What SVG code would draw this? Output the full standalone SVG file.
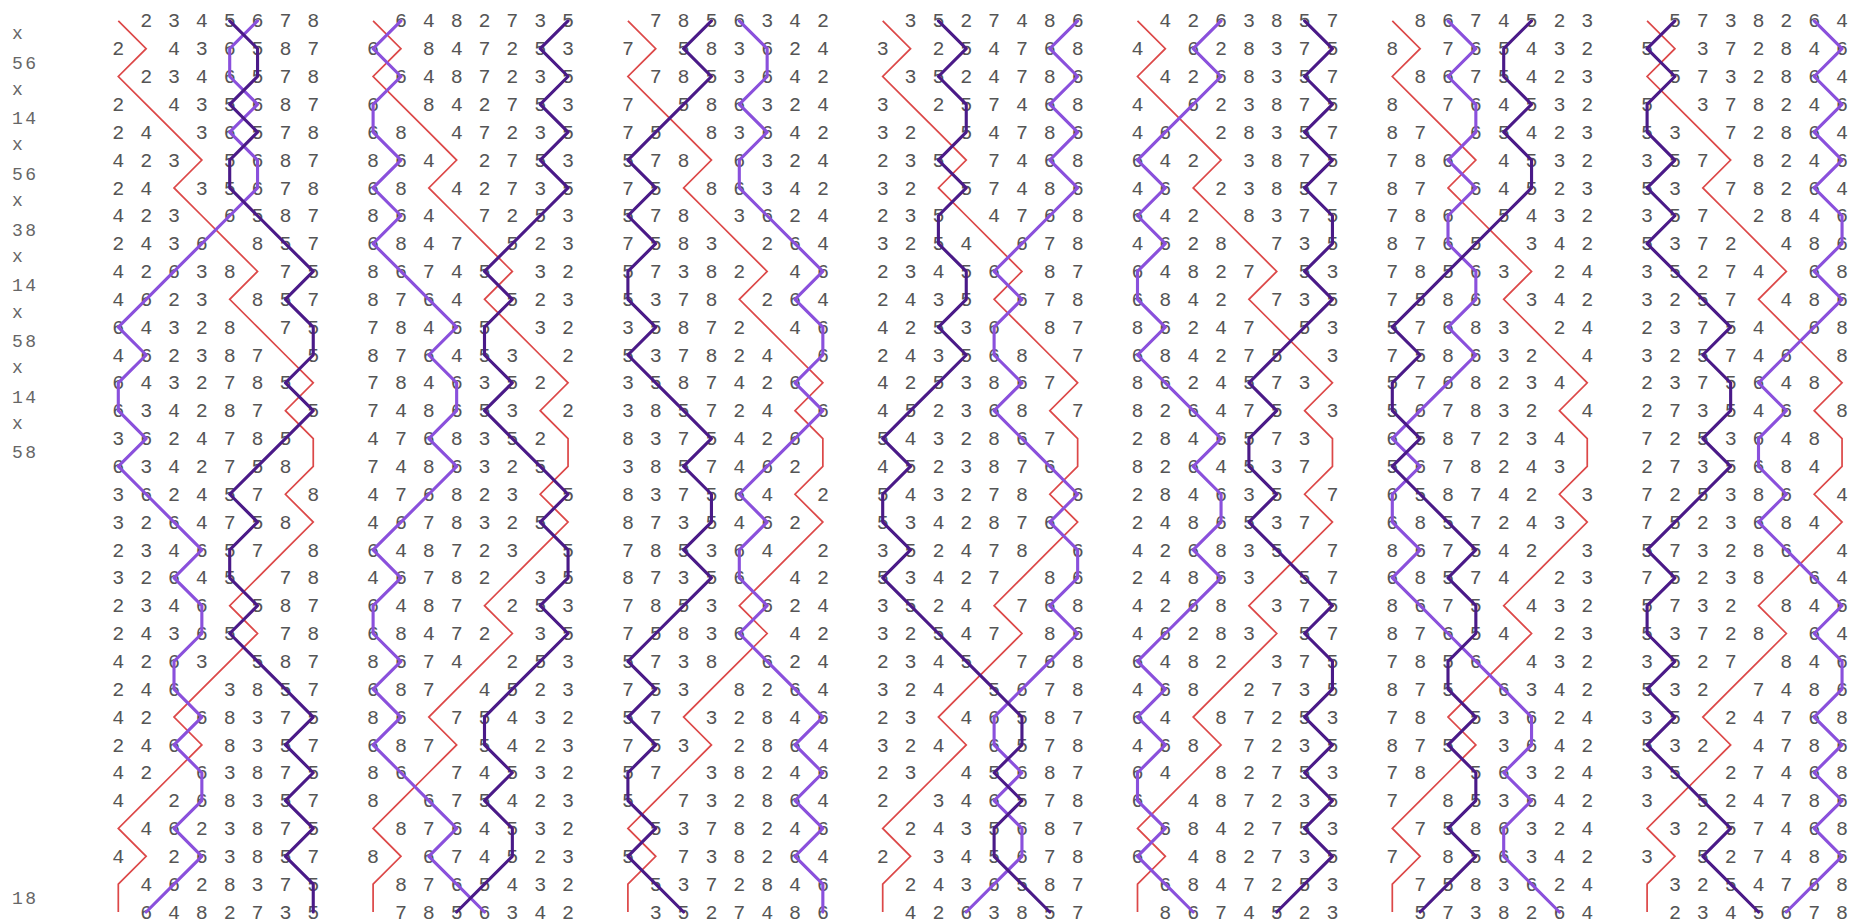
<svg xmlns="http://www.w3.org/2000/svg" width="1852" height="923" viewBox="0 0 1852 923" xml:space="preserve">
<style>
.d text{font-family:"Liberation Mono",monospace;font-size:20px;letter-spacing:1.925px;fill:#555;white-space:pre}
.pn text{font-family:"Liberation Mono",monospace;font-size:18px;letter-spacing:2.5px;fill:#666;white-space:pre}
.red{fill:none;stroke:#dc4848;stroke-width:0.062}
.lp{fill:none;stroke:#8a50dc;stroke-width:0.112;stroke-linejoin:round;stroke-linecap:round}
.dp{fill:none;stroke:#4a1a88;stroke-width:0.112;stroke-linejoin:round;stroke-linecap:round}
</style>
<defs>
<polyline id="p1" points="1,0 2,1 1,2 2,3 3,4 4,5 3,6 4,7 5,8 6,9 5,10 6,11 7,12 8,13 7,14 8,15 8,16 7,17 8,18 7,19 6,20 5,21 6,22 5,23 4,24 3,25 4,26 3,27 2,28 1,29 2,30 1,31 1,32"/>
<polyline id="p2" points="2,0 1,1 2,2 1,3 1,4 2,5 1,6 2,7 1,8 2,9 3,10 4,11 3,12 4,13 4,14 3,15 4,16 3,17 2,18 1,19 2,20 1,21 1,22 2,23 1,24 2,25 1,26 2,27 3,28 4,29 3,30 4,31 5,32"/>
<polyline id="p3" points="3,0 4,1 3,2 4,3 4,4 3,5 4,6 3,7 3,8 4,9 4,10 3,11 4,12 3,13 2,14 1,15 2,16 1,17 1,18 2,19 1,20 2,21 3,22 4,23 5,24 6,25 6,26 5,27 6,28 5,29 5,30 6,31 7,32"/>
<polyline id="p4" points="4,0 3,1 4,2 3,3 2,4 1,5 2,6 1,7 2,8 1,9 1,10 2,11 1,12 2,13 3,14 4,15 3,16 4,17 4,18 3,19 4,20 3,21 2,22 1,23 2,24 1,25 2,26 1,27 1,28 2,29 1,30 2,31 3,32"/>
<polyline id="p5" points="5,0 6,1 6,2 5,3 6,4 5,5 5,6 6,7 7,8 8,9 7,10 8,11 8,12 7,13 8,14 7,15 6,16 5,17 6,18 5,19 5,20 6,21 5,22 6,23 7,24 8,25 7,26 8,27 7,28 8,29 7,30 8,31 8,32"/>
<polyline id="p6" points="6,0 5,1 5,2 6,3 5,4 6,5 6,6 5,7 4,8 3,9 2,10 1,11 2,12 1,13 1,14 2,15 1,16 2,17 3,18 4,19 3,20 4,21 4,22 3,23 3,24 4,25 3,26 4,27 4,28 3,29 4,30 3,31 2,32"/>
<polyline id="p7" points="7,0 8,1 7,2 8,3 7,4 8,5 7,6 8,7 8,8 7,9 8,10 7,11 6,12 5,13 6,14 5,15 5,16 6,17 5,18 6,19 7,20 8,21 7,22 8,23 8,24 7,25 8,26 7,27 8,28 7,29 8,30 7,31 6,32"/>
<polyline id="p8" points="8,0 7,1 8,2 7,3 8,4 7,5 8,6 7,7 6,8 5,9 6,10 5,11 5,12 6,13 5,14 6,15 7,16 8,17 7,18 8,19 8,20 7,21 8,22 7,23 6,24 5,25 5,26 6,27 5,28 6,29 6,30 5,31 4,32"/>
</defs>
<rect width="1852" height="923" fill="#fff"/>
<g id="notation" class="pn">
<text x="12" y="39">x</text><text x="12" y="68.5">56</text><text x="12" y="94.7">x</text><text x="12" y="124.2">14</text><text x="12" y="150.4">x</text><text x="12" y="179.9">56</text><text x="12" y="206.1">x</text><text x="12" y="235.6">38</text><text x="12" y="261.8">x</text><text x="12" y="291.3">14</text><text x="12" y="317.5">x</text><text x="12" y="347">58</text><text x="12" y="373.2">x</text><text x="12" y="402.7">14</text><text x="12" y="428.9">x</text><text x="12" y="458.4">58</text><text x="12" y="904">18</text>
</g>
<g id="lead1" class="d" transform="translate(112.3,0)">
<text y="27.4">  2 3 4 5 6 7 8</text><text y="55.25">2   4 3 6 5 8 7</text><text y="83.1">  2 3 4 6 5 7 8</text><text y="110.95">2   4 3 5 6 8 7</text><text y="138.8">2 4   3 6 5 7 8</text><text y="166.65">4 2 3   5 6 8 7</text><text y="194.5">2 4   3 5 6 7 8</text><text y="222.35">4 2 3   6 5 8 7</text><text y="250.2">2 4 3 6   8 5 7</text><text y="278.05">4 2 6 3 8   7 5</text><text y="305.9">4 6 2 3   8 5 7</text><text y="333.75">6 4 3 2 8   7 5</text><text y="361.6">4 6 2 3 8 7   5</text><text y="389.45">6 4 3 2 7 8 5</text><text y="417.3">6 3 4 2 8 7   5</text><text y="445.15">3 6 2 4 7 8 5</text><text y="473">6 3 4 2 7 5 8</text><text y="500.85">3 6 2 4 5 7   8</text><text y="528.7">3 2 6 4 7 5 8</text><text y="556.55">2 3 4 6 5 7   8</text><text y="584.4">3 2 6 4 5   7 8</text><text y="612.25">2 3 4 6   5 8 7</text><text y="640.1">2 4 3 6 5   7 8</text><text y="667.95">4 2 6 3   5 8 7</text><text y="695.8">2 4 6   3 8 5 7</text><text y="723.65">4 2   6 8 3 7 5</text><text y="751.5">2 4 6   8 3 5 7</text><text y="779.35">4 2   6 3 8 7 5</text><text y="807.2">4   2 6 8 3 5 7</text><text y="835.05">  4 6 2 3 8 7 5</text><text y="862.9">4   2 6 3 8 5 7</text><text y="890.75">  4 6 2 8 3 7 5</text><text y="918.6">  6 4 8 2 7 3 5</text>
</g>
<g id="lead2" class="d" transform="translate(367.1,0)">
<text y="27.4">  6 4 8 2 7 3 5</text><text y="55.25">6   8 4 7 2 5 3</text><text y="83.1">  6 4 8 7 2 3 5</text><text y="110.95">6   8 4 2 7 5 3</text><text y="138.8">6 8   4 7 2 3 5</text><text y="166.65">8 6 4   2 7 5 3</text><text y="194.5">6 8   4 2 7 3 5</text><text y="222.35">8 6 4   7 2 5 3</text><text y="250.2">6 8 4 7   5 2 3</text><text y="278.05">8 6 7 4 5   3 2</text><text y="305.9">8 7 6 4   5 2 3</text><text y="333.75">7 8 4 6 5   3 2</text><text y="361.6">8 7 6 4 5 3   2</text><text y="389.45">7 8 4 6 3 5 2</text><text y="417.3">7 4 8 6 5 3   2</text><text y="445.15">4 7 6 8 3 5 2</text><text y="473">7 4 8 6 3 2 5</text><text y="500.85">4 7 6 8 2 3   5</text><text y="528.7">4 6 7 8 3 2 5</text><text y="556.55">6 4 8 7 2 3   5</text><text y="584.4">4 6 7 8 2   3 5</text><text y="612.25">6 4 8 7   2 5 3</text><text y="640.1">6 8 4 7 2   3 5</text><text y="667.95">8 6 7 4   2 5 3</text><text y="695.8">6 8 7   4 5 2 3</text><text y="723.65">8 6   7 5 4 3 2</text><text y="751.5">6 8 7   5 4 2 3</text><text y="779.35">8 6   7 4 5 3 2</text><text y="807.2">8   6 7 5 4 2 3</text><text y="835.05">  8 7 6 4 5 3 2</text><text y="862.9">8   6 7 4 5 2 3</text><text y="890.75">  8 7 6 5 4 3 2</text><text y="918.6">  7 8 5 6 3 4 2</text>
</g>
<g id="lead3" class="d" transform="translate(621.9,0)">
<text y="27.4">  7 8 5 6 3 4 2</text><text y="55.25">7   5 8 3 6 2 4</text><text y="83.1">  7 8 5 3 6 4 2</text><text y="110.95">7   5 8 6 3 2 4</text><text y="138.8">7 5   8 3 6 4 2</text><text y="166.65">5 7 8   6 3 2 4</text><text y="194.5">7 5   8 6 3 4 2</text><text y="222.35">5 7 8   3 6 2 4</text><text y="250.2">7 5 8 3   2 6 4</text><text y="278.05">5 7 3 8 2   4 6</text><text y="305.9">5 3 7 8   2 6 4</text><text y="333.75">3 5 8 7 2   4 6</text><text y="361.6">5 3 7 8 2 4   6</text><text y="389.45">3 5 8 7 4 2 6</text><text y="417.3">3 8 5 7 2 4   6</text><text y="445.15">8 3 7 5 4 2 6</text><text y="473">3 8 5 7 4 6 2</text><text y="500.85">8 3 7 5 6 4   2</text><text y="528.7">8 7 3 5 4 6 2</text><text y="556.55">7 8 5 3 6 4   2</text><text y="584.4">8 7 3 5 6   4 2</text><text y="612.25">7 8 5 3   6 2 4</text><text y="640.1">7 5 8 3 6   4 2</text><text y="667.95">5 7 3 8   6 2 4</text><text y="695.8">7 5 3   8 2 6 4</text><text y="723.65">5 7   3 2 8 4 6</text><text y="751.5">7 5 3   2 8 6 4</text><text y="779.35">5 7   3 8 2 4 6</text><text y="807.2">5   7 3 2 8 6 4</text><text y="835.05">  5 3 7 8 2 4 6</text><text y="862.9">5   7 3 8 2 6 4</text><text y="890.75">  5 3 7 2 8 4 6</text><text y="918.6">  3 5 2 7 4 8 6</text>
</g>
<g id="lead4" class="d" transform="translate(876.7,0)">
<text y="27.4">  3 5 2 7 4 8 6</text><text y="55.25">3   2 5 4 7 6 8</text><text y="83.1">  3 5 2 4 7 8 6</text><text y="110.95">3   2 5 7 4 6 8</text><text y="138.8">3 2   5 4 7 8 6</text><text y="166.65">2 3 5   7 4 6 8</text><text y="194.5">3 2   5 7 4 8 6</text><text y="222.35">2 3 5   4 7 6 8</text><text y="250.2">3 2 5 4   6 7 8</text><text y="278.05">2 3 4 5 6   8 7</text><text y="305.9">2 4 3 5   6 7 8</text><text y="333.75">4 2 5 3 6   8 7</text><text y="361.6">2 4 3 5 6 8   7</text><text y="389.45">4 2 5 3 8 6 7</text><text y="417.3">4 5 2 3 6 8   7</text><text y="445.15">5 4 3 2 8 6 7</text><text y="473">4 5 2 3 8 7 6</text><text y="500.85">5 4 3 2 7 8   6</text><text y="528.7">5 3 4 2 8 7 6</text><text y="556.55">3 5 2 4 7 8   6</text><text y="584.4">5 3 4 2 7   8 6</text><text y="612.25">3 5 2 4   7 6 8</text><text y="640.1">3 2 5 4 7   8 6</text><text y="667.95">2 3 4 5   7 6 8</text><text y="695.8">3 2 4   5 6 7 8</text><text y="723.65">2 3   4 6 5 8 7</text><text y="751.5">3 2 4   6 5 7 8</text><text y="779.35">2 3   4 5 6 8 7</text><text y="807.2">2   3 4 6 5 7 8</text><text y="835.05">  2 4 3 5 6 8 7</text><text y="862.9">2   3 4 5 6 7 8</text><text y="890.75">  2 4 3 6 5 8 7</text><text y="918.6">  4 2 6 3 8 5 7</text>
</g>
<g id="lead5" class="d" transform="translate(1131.5,0)">
<text y="27.4">  4 2 6 3 8 5 7</text><text y="55.25">4   6 2 8 3 7 5</text><text y="83.1">  4 2 6 8 3 5 7</text><text y="110.95">4   6 2 3 8 7 5</text><text y="138.8">4 6   2 8 3 5 7</text><text y="166.65">6 4 2   3 8 7 5</text><text y="194.5">4 6   2 3 8 5 7</text><text y="222.35">6 4 2   8 3 7 5</text><text y="250.2">4 6 2 8   7 3 5</text><text y="278.05">6 4 8 2 7   5 3</text><text y="305.9">6 8 4 2   7 3 5</text><text y="333.75">8 6 2 4 7   5 3</text><text y="361.6">6 8 4 2 7 5   3</text><text y="389.45">8 6 2 4 5 7 3</text><text y="417.3">8 2 6 4 7 5   3</text><text y="445.15">2 8 4 6 5 7 3</text><text y="473">8 2 6 4 5 3 7</text><text y="500.85">2 8 4 6 3 5   7</text><text y="528.7">2 4 8 6 5 3 7</text><text y="556.55">4 2 6 8 3 5   7</text><text y="584.4">2 4 8 6 3   5 7</text><text y="612.25">4 2 6 8   3 7 5</text><text y="640.1">4 6 2 8 3   5 7</text><text y="667.95">6 4 8 2   3 7 5</text><text y="695.8">4 6 8   2 7 3 5</text><text y="723.65">6 4   8 7 2 5 3</text><text y="751.5">4 6 8   7 2 3 5</text><text y="779.35">6 4   8 2 7 5 3</text><text y="807.2">6   4 8 7 2 3 5</text><text y="835.05">  6 8 4 2 7 5 3</text><text y="862.9">6   4 8 2 7 3 5</text><text y="890.75">  6 8 4 7 2 5 3</text><text y="918.6">  8 6 7 4 5 2 3</text>
</g>
<g id="lead6" class="d" transform="translate(1386.3,0)">
<text y="27.4">  8 6 7 4 5 2 3</text><text y="55.25">8   7 6 5 4 3 2</text><text y="83.1">  8 6 7 5 4 2 3</text><text y="110.95">8   7 6 4 5 3 2</text><text y="138.8">8 7   6 5 4 2 3</text><text y="166.65">7 8 6   4 5 3 2</text><text y="194.5">8 7   6 4 5 2 3</text><text y="222.35">7 8 6   5 4 3 2</text><text y="250.2">8 7 6 5   3 4 2</text><text y="278.05">7 8 5 6 3   2 4</text><text y="305.9">7 5 8 6   3 4 2</text><text y="333.75">5 7 6 8 3   2 4</text><text y="361.6">7 5 8 6 3 2   4</text><text y="389.45">5 7 6 8 2 3 4</text><text y="417.3">5 6 7 8 3 2   4</text><text y="445.15">6 5 8 7 2 3 4</text><text y="473">5 6 7 8 2 4 3</text><text y="500.85">6 5 8 7 4 2   3</text><text y="528.7">6 8 5 7 2 4 3</text><text y="556.55">8 6 7 5 4 2   3</text><text y="584.4">6 8 5 7 4   2 3</text><text y="612.25">8 6 7 5   4 3 2</text><text y="640.1">8 7 6 5 4   2 3</text><text y="667.95">7 8 5 6   4 3 2</text><text y="695.8">8 7 5   6 3 4 2</text><text y="723.65">7 8   5 3 6 2 4</text><text y="751.5">8 7 5   3 6 4 2</text><text y="779.35">7 8   5 6 3 2 4</text><text y="807.2">7   8 5 3 6 4 2</text><text y="835.05">  7 5 8 6 3 2 4</text><text y="862.9">7   8 5 6 3 4 2</text><text y="890.75">  7 5 8 3 6 2 4</text><text y="918.6">  5 7 3 8 2 6 4</text>
</g>
<g id="lead7" class="d" transform="translate(1641.1,0)">
<text y="27.4">  5 7 3 8 2 6 4</text><text y="55.25">5   3 7 2 8 4 6</text><text y="83.1">  5 7 3 2 8 6 4</text><text y="110.95">5   3 7 8 2 4 6</text><text y="138.8">5 3   7 2 8 6 4</text><text y="166.65">3 5 7   8 2 4 6</text><text y="194.5">5 3   7 8 2 6 4</text><text y="222.35">3 5 7   2 8 4 6</text><text y="250.2">5 3 7 2   4 8 6</text><text y="278.05">3 5 2 7 4   6 8</text><text y="305.9">3 2 5 7   4 8 6</text><text y="333.75">2 3 7 5 4   6 8</text><text y="361.6">3 2 5 7 4 6   8</text><text y="389.45">2 3 7 5 6 4 8</text><text y="417.3">2 7 3 5 4 6   8</text><text y="445.15">7 2 5 3 6 4 8</text><text y="473">2 7 3 5 6 8 4</text><text y="500.85">7 2 5 3 8 6   4</text><text y="528.7">7 5 2 3 6 8 4</text><text y="556.55">5 7 3 2 8 6   4</text><text y="584.4">7 5 2 3 8   6 4</text><text y="612.25">5 7 3 2   8 4 6</text><text y="640.1">5 3 7 2 8   6 4</text><text y="667.95">3 5 2 7   8 4 6</text><text y="695.8">5 3 2   7 4 8 6</text><text y="723.65">3 5   2 4 7 6 8</text><text y="751.5">5 3 2   4 7 8 6</text><text y="779.35">3 5   2 7 4 6 8</text><text y="807.2">3   5 2 4 7 8 6</text><text y="835.05">  3 2 5 7 4 6 8</text><text y="862.9">3   5 2 7 4 8 6</text><text y="890.75">  3 2 5 4 7 6 8</text><text y="918.6">  2 3 4 5 6 7 8</text>
</g>
<g id="connectors">
<use href="#p1" class="red" transform="translate(90.45,20.8) scale(27.85)"/>
<use href="#p6" class="lp" transform="translate(90.45,20.8) scale(27.85)"/>
<use href="#p5" class="dp" transform="translate(90.45,20.8) scale(27.85)"/>
<use href="#p1" class="red" transform="translate(345.25,20.8) scale(27.85)"/>
<use href="#p2" class="lp" transform="translate(345.25,20.8) scale(27.85)"/>
<use href="#p8" class="dp" transform="translate(345.25,20.8) scale(27.85)"/>
<use href="#p1" class="red" transform="translate(600.05,20.8) scale(27.85)"/>
<use href="#p5" class="lp" transform="translate(600.05,20.8) scale(27.85)"/>
<use href="#p4" class="dp" transform="translate(600.05,20.8) scale(27.85)"/>
<use href="#p1" class="red" transform="translate(854.85,20.8) scale(27.85)"/>
<use href="#p8" class="lp" transform="translate(854.85,20.8) scale(27.85)"/>
<use href="#p3" class="dp" transform="translate(854.85,20.8) scale(27.85)"/>
<use href="#p1" class="red" transform="translate(1109.65,20.8) scale(27.85)"/>
<use href="#p4" class="lp" transform="translate(1109.65,20.8) scale(27.85)"/>
<use href="#p7" class="dp" transform="translate(1109.65,20.8) scale(27.85)"/>
<use href="#p1" class="red" transform="translate(1364.45,20.8) scale(27.85)"/>
<use href="#p3" class="lp" transform="translate(1364.45,20.8) scale(27.85)"/>
<use href="#p6" class="dp" transform="translate(1364.45,20.8) scale(27.85)"/>
<use href="#p1" class="red" transform="translate(1619.25,20.8) scale(27.85)"/>
<use href="#p7" class="lp" transform="translate(1619.25,20.8) scale(27.85)"/>
<use href="#p2" class="dp" transform="translate(1619.25,20.8) scale(27.85)"/>
</g>
</svg>
